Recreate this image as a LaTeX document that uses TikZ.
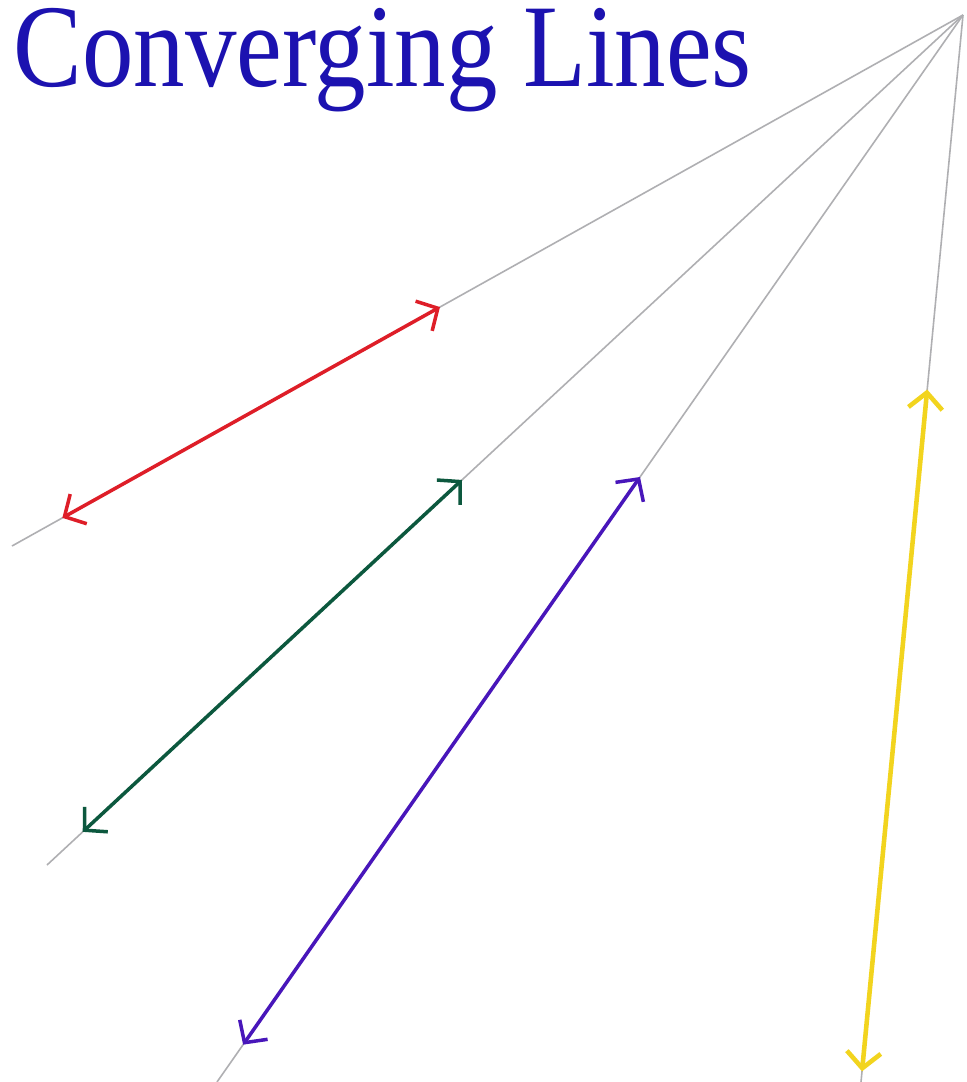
\documentclass[tikz,border=0pt]{standalone}
\usepackage{fontspec}
\setmainfont{Liberation Serif}
\usetikzlibrary{arrows.meta,calc}
\definecolor{titleblue}{RGB}{28,18,176}
\definecolor{lred}{RGB}{222,30,40}
\definecolor{lgreen}{RGB}{12,88,62}
\definecolor{lpurple}{RGB}{72,22,186}
\definecolor{lyellow}{RGB}{242,212,30}
\definecolor{lgray}{RGB}{175,175,178}
\tikzset{
  guide/.style={draw=lgray, line width=0.45pt},
  seg/.style={line width=1pt, {Straight Barb[length=1.6mm,width=3.4mm]}-{Straight Barb[length=1.6mm,width=3.4mm]}},
  title/.style={inner sep=0pt, anchor=base west, text=titleblue, font=\fontsize{32}{36}\selectfont, xscale=0.915, yscale=1.05}
}
\begin{document}
\begin{tikzpicture}
\useasboundingbox (0,0) rectangle (9.66,-10.82);
\fill[white] (0,0) rectangle (9.66,-10.82);
\node[title] (t) at (0.13,-0.86) {Converging Lines};
\coordinate (V) at (9.63,-0.15);
\coordinate (E1) at (0.12,-5.46);
\coordinate (E2) at (0.47,-8.65);
\coordinate (E3) at (2.17,-10.82);
\coordinate (E4) at (8.61,-10.82);
\draw[guide] (V) -- (E1);
\draw[guide] (V) -- (E2);
\draw[guide] (V) -- (E3);
\draw[guide] (V) -- (E4);
\coordinate (r1) at ($(V)!0.55!(E1)$);
\coordinate (r2) at ($(V)!0.947!(E1)$);
\coordinate (g1) at ($(V)!0.547!(E2)$);
\coordinate (g2) at ($(V)!0.961!(E2)$);
\coordinate (p1) at ($(V)!0.433!(E3)$);
\coordinate (p2) at ($(V)!0.965!(E3)$);
\coordinate (y1) at ($(V)!0.351!(E4)$);
\coordinate (y2) at ($(V)!0.99!(E4)$);
\draw[seg, lred] (r2) -- (r1);
\draw[seg, lgreen] (g2) -- (g1);
\draw[seg, lpurple] (p2) -- (p1);
\draw[seg, lyellow, line width=1.3pt] (y2) -- (y1);
\end{tikzpicture}
\end{document}
